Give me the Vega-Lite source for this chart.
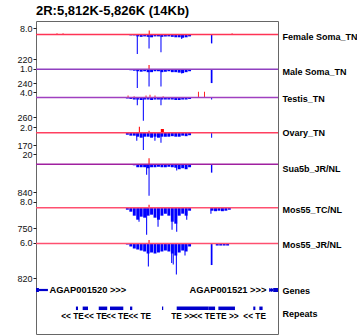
{
"$schema": "https://vega.github.io/schema/vega-lite/v6.json",
"width": 242, "height": 313,
"autosize": {"type": "none"},
"padding": {"left": 36, "top": 21, "right": 79, "bottom": 2},
"title": {"text": "2R:5,812K-5,826K (14Kb)", "anchor": "start", "frame": "group", "font": "Liberation Sans", "fontSize": 13, "fontWeight": "bold", "color": "#000", "offset": 3},
"config": {
  "view": {"stroke": "#666", "strokeWidth": 1},
  "axis": {"labelFont": "Liberation Sans", "labelFontSize": 9, "labelColor": "#111", "tickColor": "#222", "tickSize": 3, "labelPadding": 1, "domain": false, "grid": false, "labelFlush": false, "labelOverlap": false}
},
"datasets": {
"sig": [
{"t":1,"s":"n","a":5817.2,"b":5817.37,"v":4},{"t":1,"s":"n","a":5817.4,"b":5817.57,"v":8},{"t":1,"s":"n","a":5817.6,"b":5817.77,"v":8},{"t":1,"s":"n","a":5817.8,"b":5817.97,"v":17},{"t":1,"s":"n","a":5818.0,"b":5818.17,"v":21},{"t":1,"s":"n","a":5818.2,"b":5818.37,"v":17},{"t":1,"s":"n","a":5818.4,"b":5818.57,"v":21},{"t":1,"s":"n","a":5818.6,"b":5818.77,"v":25},{"t":1,"s":"n","a":5818.8,"b":5818.97,"v":17},{"t":1,"s":"n","a":5819.0,"b":5819.17,"v":17},{"t":1,"s":"n","a":5819.2,"b":5819.37,"v":21},{"t":1,"s":"n","a":5819.4,"b":5819.57,"v":17},{"t":1,"s":"n","a":5819.6,"b":5819.77,"v":17},{"t":1,"s":"n","a":5819.8,"b":5819.97,"v":21},{"t":1,"s":"n","a":5820.0,"b":5820.17,"v":25},{"t":1,"s":"n","a":5820.2,"b":5820.37,"v":25},{"t":1,"s":"n","a":5820.4,"b":5820.57,"v":29},{"t":1,"s":"n","a":5820.6,"b":5820.77,"v":25},{"t":1,"s":"n","a":5820.8,"b":5820.97,"v":17},
{"t":1,"s":"n","a":5817.83,"b":5817.89,"v":175},{"t":1,"s":"n","a":5818.51,"b":5818.57,"v":125},{"t":1,"s":"n","a":5819.2,"b":5819.26,"v":160},{"t":1,"s":"n","a":5820.4,"b":5820.46,"v":40},{"t":1,"s":"n","a":5822.12,"b":5822.2,"v":80},
{"t":1,"s":"p","a":5818.52,"b":5818.58,"v":4.9},{"t":1,"s":"p","a":5813.18,"b":5813.25,"v":1.2},{"t":1,"s":"p","a":5813.53,"b":5813.6,"v":1.2},{"t":1,"s":"p","a":5823.31,"b":5823.38,"v":1.2},
{"t":2,"s":"n","a":5817.2,"b":5817.37,"v":8},{"t":2,"s":"n","a":5817.4,"b":5817.57,"v":16},{"t":2,"s":"n","a":5817.6,"b":5817.77,"v":24},{"t":2,"s":"n","a":5817.8,"b":5817.97,"v":33},{"t":2,"s":"n","a":5818.0,"b":5818.17,"v":41},{"t":2,"s":"n","a":5818.2,"b":5818.37,"v":33},{"t":2,"s":"n","a":5818.4,"b":5818.57,"v":49},{"t":2,"s":"n","a":5818.6,"b":5818.77,"v":49},{"t":2,"s":"n","a":5818.8,"b":5818.97,"v":33},{"t":2,"s":"n","a":5819.0,"b":5819.17,"v":33},{"t":2,"s":"n","a":5819.2,"b":5819.37,"v":49},{"t":2,"s":"n","a":5819.4,"b":5819.57,"v":41},{"t":2,"s":"n","a":5819.6,"b":5819.77,"v":33},{"t":2,"s":"n","a":5819.8,"b":5819.97,"v":49},{"t":2,"s":"n","a":5820.0,"b":5820.17,"v":49},{"t":2,"s":"n","a":5820.2,"b":5820.37,"v":57},{"t":2,"s":"n","a":5820.4,"b":5820.57,"v":65},{"t":2,"s":"n","a":5820.6,"b":5820.77,"v":49},{"t":2,"s":"n","a":5820.8,"b":5820.97,"v":33},
{"t":2,"s":"n","a":5817.83,"b":5817.89,"v":320},{"t":2,"s":"n","a":5818.51,"b":5818.57,"v":293},{"t":2,"s":"n","a":5819.2,"b":5819.26,"v":293},{"t":2,"s":"n","a":5820.4,"b":5820.46,"v":74},{"t":2,"s":"n","a":5822.11,"b":5822.21,"v":236},
{"t":2,"s":"p","a":5818.51,"b":5818.57,"v":5.5},
{"t":3,"s":"n","a":5817.2,"b":5817.37,"v":13},{"t":3,"s":"n","a":5817.4,"b":5817.57,"v":20},{"t":3,"s":"n","a":5817.6,"b":5817.77,"v":27},{"t":3,"s":"n","a":5817.8,"b":5817.97,"v":27},{"t":3,"s":"n","a":5818.0,"b":5818.17,"v":33},{"t":3,"s":"n","a":5818.2,"b":5818.37,"v":27},{"t":3,"s":"n","a":5818.4,"b":5818.57,"v":27},{"t":3,"s":"n","a":5818.6,"b":5818.77,"v":33},{"t":3,"s":"n","a":5818.8,"b":5818.97,"v":27},{"t":3,"s":"n","a":5819.0,"b":5819.17,"v":27},{"t":3,"s":"n","a":5819.2,"b":5819.37,"v":27},{"t":3,"s":"n","a":5819.4,"b":5819.57,"v":27},{"t":3,"s":"n","a":5819.6,"b":5819.77,"v":27},{"t":3,"s":"n","a":5819.8,"b":5819.97,"v":27},{"t":3,"s":"n","a":5820.0,"b":5820.17,"v":33},{"t":3,"s":"n","a":5820.2,"b":5820.37,"v":33},{"t":3,"s":"n","a":5820.4,"b":5820.57,"v":27},{"t":3,"s":"n","a":5820.6,"b":5820.77,"v":27},{"t":3,"s":"n","a":5820.8,"b":5820.97,"v":20},
{"t":3,"s":"n","a":5817.83,"b":5817.89,"v":103},{"t":3,"s":"n","a":5818.18,"b":5818.24,"v":310},{"t":3,"s":"n","a":5819.2,"b":5819.26,"v":103},{"t":3,"s":"n","a":5822.13,"b":5822.19,"v":27},{"t":3,"s":"n","a":5822.4,"b":5822.45,"v":7},{"t":3,"s":"n","a":5822.8,"b":5822.85,"v":7},{"t":3,"s":"n","a":5823.2,"b":5823.25,"v":7},
{"t":3,"s":"p","a":5817.3,"b":5817.35,"v":1.4},{"t":3,"s":"p","a":5817.65,"b":5817.7,"v":1},{"t":3,"s":"p","a":5818.34,"b":5818.39,"v":1.4},{"t":3,"s":"p","a":5818.57,"b":5818.62,"v":2},{"t":3,"s":"p","a":5818.86,"b":5818.91,"v":1.4},{"t":3,"s":"p","a":5819.33,"b":5819.38,"v":1},{"t":3,"s":"p","a":5821.37,"b":5821.42,"v":4.2},{"t":3,"s":"p","a":5821.72,"b":5821.77,"v":4.2},
{"t":4,"s":"n","a":5817.2,"b":5817.37,"v":28},{"t":4,"s":"n","a":5817.4,"b":5817.57,"v":41},{"t":4,"s":"n","a":5817.6,"b":5817.77,"v":41},{"t":4,"s":"n","a":5817.8,"b":5817.97,"v":55},{"t":4,"s":"n","a":5818.0,"b":5818.17,"v":69},{"t":4,"s":"n","a":5818.2,"b":5818.37,"v":55},{"t":4,"s":"n","a":5818.4,"b":5818.57,"v":55},{"t":4,"s":"n","a":5818.6,"b":5818.77,"v":69},{"t":4,"s":"n","a":5818.8,"b":5818.97,"v":55},{"t":4,"s":"n","a":5819.0,"b":5819.17,"v":69},{"t":4,"s":"n","a":5819.2,"b":5819.37,"v":55},{"t":4,"s":"n","a":5819.4,"b":5819.57,"v":55},{"t":4,"s":"n","a":5819.6,"b":5819.77,"v":55},{"t":4,"s":"n","a":5819.8,"b":5819.97,"v":48},{"t":4,"s":"n","a":5820.0,"b":5820.17,"v":55},{"t":4,"s":"n","a":5820.2,"b":5820.37,"v":55},{"t":4,"s":"n","a":5820.4,"b":5820.57,"v":41},{"t":4,"s":"n","a":5820.6,"b":5820.77,"v":48},{"t":4,"s":"n","a":5820.8,"b":5820.97,"v":35},
{"t":4,"s":"n","a":5817.8,"b":5817.86,"v":110},{"t":4,"s":"n","a":5818.18,"b":5818.24,"v":239},{"t":4,"s":"n","a":5818.85,"b":5818.91,"v":110},{"t":4,"s":"n","a":5819.2,"b":5819.26,"v":138},{"t":4,"s":"n","a":5822.13,"b":5822.19,"v":69},
{"t":4,"s":"p","a":5817.95,"b":5818.01,"v":2.1},{"t":4,"s":"p","a":5819.22,"b":5819.4,"v":1.3},{"t":4,"s":"p","a":5818.51,"b":5818.57,"v":0.7},
{"t":5,"s":"n","a":5817.4,"b":5817.57,"v":15},{"t":5,"s":"n","a":5817.6,"b":5817.77,"v":30},{"t":5,"s":"n","a":5817.8,"b":5817.97,"v":89},{"t":5,"s":"n","a":5818.0,"b":5818.17,"v":89},{"t":5,"s":"n","a":5818.2,"b":5818.37,"v":89},{"t":5,"s":"n","a":5818.4,"b":5818.57,"v":119},{"t":5,"s":"n","a":5818.6,"b":5818.77,"v":89},{"t":5,"s":"n","a":5818.8,"b":5818.97,"v":89},{"t":5,"s":"n","a":5819.0,"b":5819.17,"v":75},{"t":5,"s":"n","a":5819.2,"b":5819.37,"v":89},{"t":5,"s":"n","a":5819.4,"b":5819.57,"v":89},{"t":5,"s":"n","a":5819.6,"b":5819.77,"v":75},{"t":5,"s":"n","a":5819.8,"b":5819.97,"v":89},{"t":5,"s":"n","a":5820.0,"b":5820.17,"v":104},{"t":5,"s":"n","a":5820.2,"b":5820.37,"v":149},{"t":5,"s":"n","a":5820.4,"b":5820.57,"v":119},{"t":5,"s":"n","a":5820.6,"b":5820.77,"v":149},{"t":5,"s":"n","a":5820.8,"b":5820.97,"v":89},
{"t":5,"s":"n","a":5818.37,"b":5818.43,"v":319},{"t":5,"s":"n","a":5818.51,"b":5818.57,"v":954},{"t":5,"s":"n","a":5820.11,"b":5820.17,"v":191},{"t":5,"s":"n","a":5822.12,"b":5822.2,"v":253},
{"t":5,"s":"p","a":5818.51,"b":5818.57,"v":11.6},
{"t":6,"s":"n","a":5817.2,"b":5817.37,"v":74},{"t":6,"s":"n","a":5817.4,"b":5817.57,"v":148},{"t":6,"s":"n","a":5817.6,"b":5817.77,"v":295},{"t":6,"s":"n","a":5817.8,"b":5817.97,"v":443},{"t":6,"s":"n","a":5818.0,"b":5818.17,"v":332},{"t":6,"s":"n","a":5818.2,"b":5818.37,"v":369},{"t":6,"s":"n","a":5818.4,"b":5818.57,"v":295},{"t":6,"s":"n","a":5818.6,"b":5818.77,"v":258},{"t":6,"s":"n","a":5818.8,"b":5818.97,"v":369},{"t":6,"s":"n","a":5819.0,"b":5819.17,"v":443},{"t":6,"s":"n","a":5819.2,"b":5819.37,"v":295},{"t":6,"s":"n","a":5819.4,"b":5819.57,"v":221},{"t":6,"s":"n","a":5819.6,"b":5819.77,"v":295},{"t":6,"s":"n","a":5819.8,"b":5819.97,"v":517},{"t":6,"s":"n","a":5820.0,"b":5820.17,"v":590},{"t":6,"s":"n","a":5820.2,"b":5820.37,"v":295},{"t":6,"s":"n","a":5820.4,"b":5820.57,"v":221},{"t":6,"s":"n","a":5820.6,"b":5820.77,"v":295},{"t":6,"s":"n","a":5820.8,"b":5820.97,"v":111},
{"t":6,"s":"n","a":5817.93,"b":5817.99,"v":517},{"t":6,"s":"n","a":5818.37,"b":5818.43,"v":996},{"t":6,"s":"n","a":5819.03,"b":5819.09,"v":701},{"t":6,"s":"n","a":5819.84,"b":5819.9,"v":812},{"t":6,"s":"n","a":5820.11,"b":5820.17,"v":886},{"t":6,"s":"n","a":5820.69,"b":5820.75,"v":443},
{"t":6,"s":"n","a":5822.1,"b":5822.27,"v":111},{"t":6,"s":"n","a":5822.3,"b":5822.47,"v":129},{"t":6,"s":"n","a":5822.5,"b":5822.67,"v":111},{"t":6,"s":"n","a":5822.7,"b":5822.87,"v":129},{"t":6,"s":"n","a":5822.9,"b":5823.07,"v":111},{"t":6,"s":"n","a":5823.1,"b":5823.27,"v":74},{"t":6,"s":"n","a":5822.09,"b":5822.15,"v":221},
{"t":6,"s":"p","a":5818.51,"b":5818.57,"v":3.8},
{"t":7,"s":"n","a":5817.2,"b":5817.37,"v":24},{"t":7,"s":"n","a":5817.4,"b":5817.57,"v":71},{"t":7,"s":"n","a":5817.6,"b":5817.77,"v":119},{"t":7,"s":"n","a":5817.8,"b":5817.97,"v":143},{"t":7,"s":"n","a":5818.0,"b":5818.17,"v":167},{"t":7,"s":"n","a":5818.2,"b":5818.37,"v":190},{"t":7,"s":"n","a":5818.4,"b":5818.57,"v":238},{"t":7,"s":"n","a":5818.6,"b":5818.77,"v":214},{"t":7,"s":"n","a":5818.8,"b":5818.97,"v":238},{"t":7,"s":"n","a":5819.0,"b":5819.17,"v":214},{"t":7,"s":"n","a":5819.2,"b":5819.37,"v":190},{"t":7,"s":"n","a":5819.4,"b":5819.57,"v":167},{"t":7,"s":"n","a":5819.6,"b":5819.77,"v":190},{"t":7,"s":"n","a":5819.8,"b":5819.97,"v":238},{"t":7,"s":"n","a":5820.0,"b":5820.17,"v":286},{"t":7,"s":"n","a":5820.2,"b":5820.37,"v":214},{"t":7,"s":"n","a":5820.4,"b":5820.57,"v":167},{"t":7,"s":"n","a":5820.6,"b":5820.77,"v":190},{"t":7,"s":"n","a":5820.8,"b":5820.97,"v":71},
{"t":7,"s":"n","a":5818.47,"b":5818.53,"v":547},{"t":7,"s":"n","a":5819.82,"b":5819.88,"v":464},{"t":7,"s":"n","a":5819.91,"b":5819.97,"v":500},{"t":7,"s":"n","a":5820.09,"b":5820.15,"v":738},{"t":7,"s":"n","a":5820.59,"b":5820.65,"v":286},{"t":7,"s":"n","a":5822.11,"b":5822.21,"v":512},
{"t":7,"s":"n","a":5822.4,"b":5822.57,"v":48},{"t":7,"s":"n","a":5822.6,"b":5822.77,"v":48},{"t":7,"s":"n","a":5822.8,"b":5822.97,"v":48},{"t":7,"s":"n","a":5823.0,"b":5823.17,"v":48},
{"t":7,"s":"p","a":5818.51,"b":5818.57,"v":21}
],
"tracks": [
{"t":1,"name":"Female Soma_TN"},{"t":2,"name":"Male Soma_TN"},{"t":3,"name":"Testis_TN"},{"t":4,"name":"Ovary_TN"},{"t":5,"name":"Sua5b_JR/NL"},{"t":6,"name":"Mos55_TC/NL"},{"t":7,"name":"Mos55_JR/NL"}
],
"genes": [
{"gene":"AGAP001520","lane":"Genes","part":"exon","a":5811.5,"b":5812.17},
{"gene":"AGAP001520","lane":"Genes","part":"line","a":5812.17,"b":5812.69},
{"gene":"AGAP001521","lane":"Genes","part":"line","a":5825.5,"b":5825.72},
{"gene":"AGAP001521","lane":"Genes","part":"exon","a":5825.5,"b":5825.56},
{"gene":"AGAP001521","lane":"Genes","part":"exon","a":5825.61,"b":5825.67},
{"gene":"AGAP001521","lane":"Genes","part":"exon","a":5825.72,"b":5826.5}
],
"genelabels": [
{"label":"AGAP001520 >>>","lane":"Genes","a":5812.69,"side":"after"},
{"label":"AGAP001521 >>>","lane":"Genes","a":5825.5,"side":"before"}
],
"repeats": [
{"lane":"Repeats","a":5814.31,"b":5814.43},{"lane":"Repeats","a":5814.7,"b":5815.01},{"lane":"Repeats","a":5815.63,"b":5816.12},{"lane":"Repeats","a":5816.28,"b":5817.05},{"lane":"Repeats","a":5817.44,"b":5817.57},{"lane":"Repeats","a":5819.29,"b":5819.36},{"lane":"Repeats","a":5820.14,"b":5821.97},{"lane":"Repeats","a":5821.97,"b":5822.36},{"lane":"Repeats","a":5822.55,"b":5823.51},{"lane":"Repeats","a":5824.57,"b":5824.69},{"lane":"Repeats","a":5824.92,"b":5825.11}
],
"telabels": [
{"lane":"Repeats","lab":"<< TE","a":5814.11},{"lane":"Repeats","lab":"<< TE","a":5815.44},{"lane":"Repeats","lab":"<< TE","a":5816.71},{"lane":"Repeats","lab":"<< TE","a":5818.0},{"lane":"Repeats","lab":"TE >>","a":5820.48},{"lane":"Repeats","lab":"<< TE","a":5821.72},{"lane":"Repeats","lab":"TE >>","a":5823.07},{"lane":"Repeats","lab":"<< TE","a":5824.65}
]
},
"resolve": {"scale": {"y": "independent", "strokeWidth": "independent"}, "axis": {"y": "independent"}},
"layer": [
{"data":{"name":"sig"},"transform":[{"filter":"datum.t==1 && datum.s=='n'"}],"mark":{"type":"rect","color":"#0000ff"},
 "encoding":{"x":{"field":"a","type":"quantitative","scale":{"domain":[5812,5826]},"axis":null},"x2":{"field":"b"},
 "y":{"field":"v","type":"quantitative","scale":{"domain":[0,220],"range":[13.5,38],"nice":false,"zero":false},"axis":{"orient":"left","values":[220],"format":"d","title":null}},"y2":{"datum":0}}},
{"data":{"name":"sig"},"transform":[{"filter":"datum.t==1 && datum.s=='p'"}],"mark":{"type":"rect","color":"#ff0000"},
 "encoding":{"x":{"field":"a","type":"quantitative","scale":{"domain":[5812,5826]},"axis":null},"x2":{"field":"b"},
 "y":{"field":"v","type":"quantitative","scale":{"domain":[0,8],"range":[13.5,7],"nice":false,"zero":false},"axis":{"orient":"left","values":[8],"format":".1f","title":null}},"y2":{"datum":0}}},
{"data":{"name":"tracks"},"transform":[{"filter":"datum.t==1"}],"mark":{"type":"rule","color":"#ff3355","strokeWidth":1.5},
 "encoding":{"y":{"datum":0,"type":"quantitative","scale":{"domain":[0,1],"range":[13.5,14.5],"nice":false,"zero":false},"axis":{"orient":"right","values":[0],"labelExpr":"'Female Soma_TN'","ticks":false,"tickSize":0,"labelPadding":4,"labelOffset":2,"labelFontSize":9,"labelFontWeight":"bold","labelColor":"#000","title":null}}}},

{"data":{"name":"sig"},"transform":[{"filter":"datum.t==2 && datum.s=='n'"}],"mark":{"type":"rect","color":"#0000ff"},
 "encoding":{"x":{"field":"a","type":"quantitative","scale":{"domain":[5812,5826]},"axis":null},"x2":{"field":"b"},
 "y":{"field":"v","type":"quantitative","scale":{"domain":[0,240],"range":[48.3,62.3],"nice":false,"zero":false},"axis":{"orient":"left","values":[240],"format":"d","title":null}},"y2":{"datum":0}}},
{"data":{"name":"sig"},"transform":[{"filter":"datum.t==2 && datum.s=='p'"}],"mark":{"type":"rect","color":"#ff0000"},
 "encoding":{"x":{"field":"a","type":"quantitative","scale":{"domain":[5812,5826]},"axis":null},"x2":{"field":"b"},
 "y":{"field":"v","type":"quantitative","scale":{"domain":[0,1],"range":[48.3,47.5],"nice":false,"zero":false},"axis":{"orient":"left","values":[1],"format":".1f","title":null}},"y2":{"datum":0}}},
{"data":{"name":"tracks"},"transform":[{"filter":"datum.t==2"}],"mark":{"type":"rule","color":"#9040c0","strokeWidth":1.5},
 "encoding":{"y":{"datum":0,"type":"quantitative","scale":{"domain":[0,1],"range":[48.3,49.3],"nice":false,"zero":false},"axis":{"orient":"right","values":[0],"labelExpr":"'Male Soma_TN'","ticks":false,"tickSize":0,"labelPadding":4,"labelOffset":2,"labelFontSize":9,"labelFontWeight":"bold","labelColor":"#000","title":null}}}},

{"data":{"name":"sig"},"transform":[{"filter":"datum.t==3 && datum.s=='n'"}],"mark":{"type":"rect","color":"#0000ff"},
 "encoding":{"x":{"field":"a","type":"quantitative","scale":{"domain":[5812,5826]},"axis":null},"x2":{"field":"b"},
 "y":{"field":"v","type":"quantitative","scale":{"domain":[0,260],"range":[76.5,96],"nice":false,"zero":false},"axis":{"orient":"left","values":[260],"format":"d","title":null}},"y2":{"datum":0}}},
{"data":{"name":"sig"},"transform":[{"filter":"datum.t==3 && datum.s=='p'"}],"mark":{"type":"rect","color":"#ff0000"},
 "encoding":{"x":{"field":"a","type":"quantitative","scale":{"domain":[5812,5826]},"axis":null},"x2":{"field":"b"},
 "y":{"field":"v","type":"quantitative","scale":{"domain":[0,4],"range":[76.5,71],"nice":false,"zero":false},"axis":{"orient":"left","values":[4],"format":".1f","title":null}},"y2":{"datum":0}}},
{"data":{"name":"tracks"},"transform":[{"filter":"datum.t==3"}],"mark":{"type":"rule","color":"#a040c0","strokeWidth":1.5},
 "encoding":{"y":{"datum":0,"type":"quantitative","scale":{"domain":[0,1],"range":[76.5,77.5],"nice":false,"zero":false},"axis":{"orient":"right","values":[0],"labelExpr":"'Testis_TN'","ticks":false,"tickSize":0,"labelPadding":4,"labelOffset":1,"labelFontSize":9,"labelFontWeight":"bold","labelColor":"#000","title":null}}}},

{"data":{"name":"sig"},"transform":[{"filter":"datum.t==4 && datum.s=='n'"}],"mark":{"type":"rect","color":"#0000ff"},
 "encoding":{"x":{"field":"a","type":"quantitative","scale":{"domain":[5812,5826]},"axis":null},"x2":{"field":"b"},
 "y":{"field":"v","type":"quantitative","scale":{"domain":[0,170],"range":[111.7,124],"nice":false,"zero":false},"axis":{"orient":"left","values":[170],"format":"d","title":null}},"y2":{"datum":0}}},
{"data":{"name":"sig"},"transform":[{"filter":"datum.t==4 && datum.s=='p'"}],"mark":{"type":"rect","color":"#ff0000"},
 "encoding":{"x":{"field":"a","type":"quantitative","scale":{"domain":[5812,5826]},"axis":null},"x2":{"field":"b"},
 "y":{"field":"v","type":"quantitative","scale":{"domain":[0,2],"range":[111.7,106],"nice":false,"zero":false},"axis":{"orient":"left","values":[2],"format":".1f","title":null}},"y2":{"datum":0}}},
{"data":{"name":"tracks"},"transform":[{"filter":"datum.t==4"}],"mark":{"type":"rule","color":"#ff4060","strokeWidth":1.5},
 "encoding":{"y":{"datum":0,"type":"quantitative","scale":{"domain":[0,1],"range":[111.7,112.7],"nice":false,"zero":false},"axis":{"orient":"right","values":[0],"labelExpr":"'Ovary_TN'","ticks":false,"tickSize":0,"labelPadding":4,"labelOffset":0,"labelFontSize":9,"labelFontWeight":"bold","labelColor":"#000","title":null}}}},

{"data":{"name":"sig"},"transform":[{"filter":"datum.t==5 && datum.s=='n'"}],"mark":{"type":"rect","color":"#0000ff"},
 "encoding":{"x":{"field":"a","type":"quantitative","scale":{"domain":[5812,5826]},"axis":null},"x2":{"field":"b"},
 "y":{"field":"v","type":"quantitative","scale":{"domain":[0,840],"range":[143.3,171],"nice":false,"zero":false},"axis":{"orient":"left","values":[840],"format":"d","title":null}},"y2":{"datum":0}}},
{"data":{"name":"sig"},"transform":[{"filter":"datum.t==5 && datum.s=='p'"}],"mark":{"type":"rect","color":"#ff0000"},
 "encoding":{"x":{"field":"a","type":"quantitative","scale":{"domain":[5812,5826]},"axis":null},"x2":{"field":"b"},
 "y":{"field":"v","type":"quantitative","scale":{"domain":[0,20],"range":[143.3,133],"nice":false,"zero":false},"axis":{"orient":"left","values":[20],"format":"d","title":null}},"y2":{"datum":0}}},
{"data":{"name":"tracks"},"transform":[{"filter":"datum.t==5"}],"mark":{"type":"rule","color":"#a020a0","strokeWidth":1.5},
 "encoding":{"y":{"datum":0,"type":"quantitative","scale":{"domain":[0,1],"range":[143.3,144.3],"nice":false,"zero":false},"axis":{"orient":"right","values":[0],"labelExpr":"'Sua5b_JR/NL'","ticks":false,"tickSize":0,"labelPadding":4,"labelOffset":4,"labelFontSize":9,"labelFontWeight":"bold","labelColor":"#000","title":null}}}},

{"data":{"name":"sig"},"transform":[{"filter":"datum.t==6 && datum.s=='n'"}],"mark":{"type":"rect","color":"#0000ff"},
 "encoding":{"x":{"field":"a","type":"quantitative","scale":{"domain":[5812,5826]},"axis":null},"x2":{"field":"b"},
 "y":{"field":"v","type":"quantitative","scale":{"domain":[0,750],"range":[186.7,207],"nice":false,"zero":false},"axis":{"orient":"left","values":[750],"format":"d","title":null}},"y2":{"datum":0}}},
{"data":{"name":"sig"},"transform":[{"filter":"datum.t==6 && datum.s=='p'"}],"mark":{"type":"rect","color":"#ff0000"},
 "encoding":{"x":{"field":"a","type":"quantitative","scale":{"domain":[5812,5826]},"axis":null},"x2":{"field":"b"},
 "y":{"field":"v","type":"quantitative","scale":{"domain":[0,8],"range":[186.7,180.5],"nice":false,"zero":false},"axis":{"orient":"left","values":[8],"format":".1f","title":null}},"y2":{"datum":0}}},
{"data":{"name":"tracks"},"transform":[{"filter":"datum.t==6"}],"mark":{"type":"rule","color":"#ff5070","strokeWidth":1.5},
 "encoding":{"y":{"datum":0,"type":"quantitative","scale":{"domain":[0,1],"range":[186.7,187.7],"nice":false,"zero":false},"axis":{"orient":"right","values":[0],"labelExpr":"'Mos55_TC/NL'","ticks":false,"tickSize":0,"labelPadding":4,"labelOffset":1.5,"labelFontSize":9,"labelFontWeight":"bold","labelColor":"#000","title":null}}}},

{"data":{"name":"sig"},"transform":[{"filter":"datum.t==7 && datum.s=='n'"}],"mark":{"type":"rect","color":"#0000ff"},
 "encoding":{"x":{"field":"a","type":"quantitative","scale":{"domain":[5812,5826]},"axis":null},"x2":{"field":"b"},
 "y":{"field":"v","type":"quantitative","scale":{"domain":[0,820],"range":[222.5,257],"nice":false,"zero":false},"axis":{"orient":"left","values":[820],"format":"d","title":null}},"y2":{"datum":0}}},
{"data":{"name":"sig"},"transform":[{"filter":"datum.t==7 && datum.s=='p'"}],"mark":{"type":"rect","color":"#ff0000"},
 "encoding":{"x":{"field":"a","type":"quantitative","scale":{"domain":[5812,5826]},"axis":null},"x2":{"field":"b"},
 "y":{"field":"v","type":"quantitative","scale":{"domain":[0,6],"range":[222.5,221.5],"nice":false,"zero":false},"axis":{"orient":"left","values":[6],"format":".1f","title":null}},"y2":{"datum":0}}},
{"data":{"name":"tracks"},"transform":[{"filter":"datum.t==7"}],"mark":{"type":"rule","color":"#ff5070","strokeWidth":1.5},
 "encoding":{"y":{"datum":0,"type":"quantitative","scale":{"domain":[0,1],"range":[222.5,223.5],"nice":false,"zero":false},"axis":{"orient":"right","values":[0],"labelExpr":"'Mos55_JR/NL'","ticks":false,"tickSize":0,"labelPadding":4,"labelOffset":1,"labelFontSize":9,"labelFontWeight":"bold","labelColor":"#000","title":null}}}},

{"data":{"name":"genes"},"mark":{"type":"rule","color":"#0000cc","clip":true,"strokeCap":"butt"},
 "encoding":{"x":{"field":"a","type":"quantitative","scale":{"domain":[5812,5826]},"axis":null},"x2":{"field":"b"},
 "y":{"field":"lane","type":"nominal","scale":{"type":"point","domain":["Genes","Repeats"],"range":[269,292.3],"padding":0},"axis":{"orient":"right","ticks":false,"tickSize":0,"labelPadding":4,"labelFontSize":9,"labelFontWeight":"bold","labelColor":"#000","title":null}},
 "strokeWidth":{"field":"part","type":"nominal","scale":{"domain":["exon","line"],"range":[4,2.2]},"legend":null}}},
{"data":{"name":"genelabels"},"transform":[{"filter":"datum.side=='after'"}],"mark":{"type":"text","align":"left","dx":1.5,"baseline":"middle","font":"Liberation Sans","fontSize":9.3,"fontWeight":"bold","color":"#000"},
 "encoding":{"x":{"field":"a","type":"quantitative","scale":{"domain":[5812,5826]},"axis":null},
 "y":{"field":"lane","type":"nominal","scale":{"type":"point","domain":["Genes","Repeats"],"range":[268.5,291.5],"padding":0},"axis":null},
 "text":{"field":"label"}}},
{"data":{"name":"genelabels"},"transform":[{"filter":"datum.side=='before'"}],"mark":{"type":"text","align":"right","dx":-3,"baseline":"middle","font":"Liberation Sans","fontSize":9.3,"fontWeight":"bold","color":"#000"},
 "encoding":{"x":{"field":"a","type":"quantitative","scale":{"domain":[5812,5826]},"axis":null},
 "y":{"field":"lane","type":"nominal","scale":{"type":"point","domain":["Genes","Repeats"],"range":[268.5,291.5],"padding":0},"axis":null},
 "text":{"field":"label"}}},
{"data":{"name":"repeats"},"mark":{"type":"rule","color":"#0000cc","strokeWidth":3.5,"strokeCap":"butt"},
 "encoding":{"x":{"field":"a","type":"quantitative","scale":{"domain":[5812,5826]},"axis":null},"x2":{"field":"b"},
 "y":{"field":"lane","type":"nominal","scale":{"type":"point","domain":["Genes","Repeats"],"range":[264.7,287.3],"padding":0},"axis":null}}},
{"data":{"name":"telabels"},"mark":{"type":"text","align":"center","baseline":"middle","font":"Liberation Sans","fontSize":8.3,"fontWeight":"bold","color":"#000"},
 "encoding":{"x":{"field":"a","type":"quantitative","scale":{"domain":[5812,5826]},"axis":null},
 "y":{"field":"lane","type":"nominal","scale":{"type":"point","domain":["Genes","Repeats"],"range":[273.7,296.3],"padding":0},"axis":null},
 "text":{"field":"lab"}}}
]
}
